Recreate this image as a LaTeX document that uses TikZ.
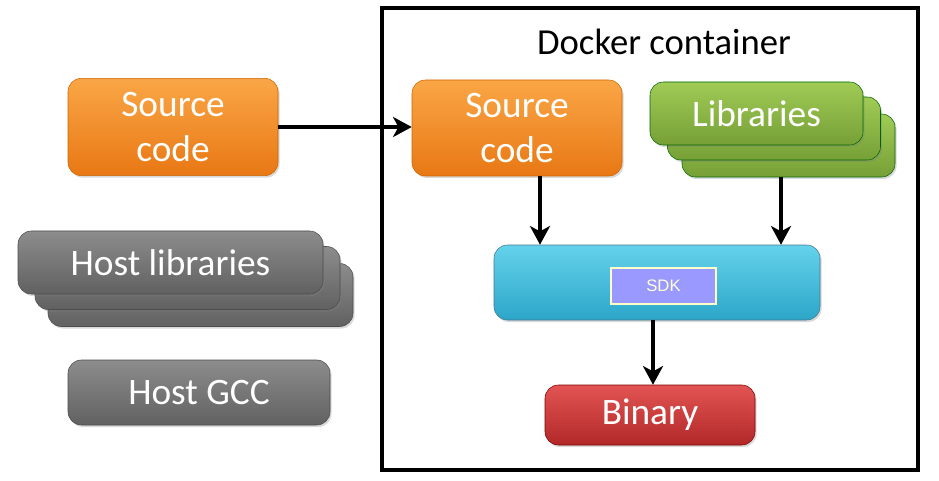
\documentclass[tikz,border=0pt]{standalone}
\usepackage{fontspec}
\setmainfont{Carlito}
\newfontfamily\sdkfont{Liberation Sans}
\usetikzlibrary{arrows.meta, shadows}
\tikzset{
    blk/.style={rectangle, rounded corners=10pt, draw=#1, line width=0.4pt, text=white, align=center,
        font=\fontsize{28}{34}\selectfont, inner sep=0pt,
        drop shadow={opacity=0.3, shadow xshift=1.2pt, shadow yshift=-1.5pt}},
    srcbox/.style={blk=orange!80!black, top color={rgb,255:red,250;green,166;blue,70}, bottom color={rgb,255:red,232;green,120;blue,20},
        minimum width=157.5pt, minimum height=73pt},
    libbox/.style={blk=green!40!black, top color={rgb,255:red,160;green,203;blue,86}, bottom color={rgb,255:red,118;green,160;blue,54},
        minimum width=159.75pt, minimum height=47.25pt},
    hostbox/.style={blk=black!70, top color=black!45, bottom color=black!62,
        minimum width=228.75pt, minimum height=47.25pt},
    sdkbar/.style={blk=cyan!50!black, top color={rgb,255:red,100;green,210;blue,235}, bottom color={rgb,255:red,44;green,166;blue,200},
        minimum width=244.5pt, minimum height=56.25pt},
    binbox/.style={blk=red!50!black, top color={rgb,255:red,226;green,84;blue,84}, bottom color={rgb,255:red,178;green,40;blue,40},
        minimum width=157.5pt, minimum height=45pt},
    sdklabel/.style={draw={rgb,255:red,255;green,255;blue,200}, line width=1pt, fill={rgb,255:red,153;green,153;blue,255},
        text={rgb,255:red,255;green,255;blue,215}, font=\sdkfont\fontsize{12.5}{15}\selectfont,
        minimum width=78.75pt, minimum height=27pt, drop shadow={opacity=0.3, shadow xshift=1pt, shadow yshift=-1pt}},
    flow/.style={line width=2.8pt, -{Stealth[length=14pt, width=15pt, inset=4pt]}}
}

\begin{document}
\begin{tikzpicture}[x=0.75pt, y=-0.75pt]
    \useasboundingbox (0,0) rectangle (939,481);
    % host side
    \node[srcbox] (srcout) at (173,127) {Source\\code};
    \node[hostbox] (hostlibC) at (200.5,295) {}; % back copies
    \node[hostbox] (hostlibB) at (187.5,278) {};
    \node[hostbox] (hostlib) at (170.5,262.5) {Host libraries};
    \node[hostbox, minimum width=196.5pt, minimum height=48.75pt] (gcc) at (199,392.5) {Host GCC};
    % container
    \draw[line width=2.6pt] (382,8) rectangle (918,470);
    \node[font=\fontsize{27.5}{33}\selectfont] (docker) at (664,42) {Docker container};
    \node[srcbox, minimum height=72pt] (srcin) at (517,128) {Source\\code};
    \node[libbox] (libC) at (788.5,145.5) {};
    \node[libbox] (libB) at (774,128.5) {};
    \node[libbox] (lib) at (756.5,113.5) {Libraries};
    \node[sdkbar] (sdk) at (657,282.5) {};
    \node[sdklabel] (sdklbl) at (663.5,286) {SDK};
    \node[binbox] (bin) at (650,415) {Binary};
    % arrows
    \draw[flow] (srcout.east) -- (srcout.east -| srcin.west);
    \draw[flow] (srcin.south -| 540,0) -- (sdk.north -| 540,0);
    \draw[flow] (libC.south -| 781,0) -- (sdk.north -| 781,0);
    \draw[flow] (sdk.south -| 653,0) -- (bin.north -| 653,0);
\end{tikzpicture}
\end{document}
